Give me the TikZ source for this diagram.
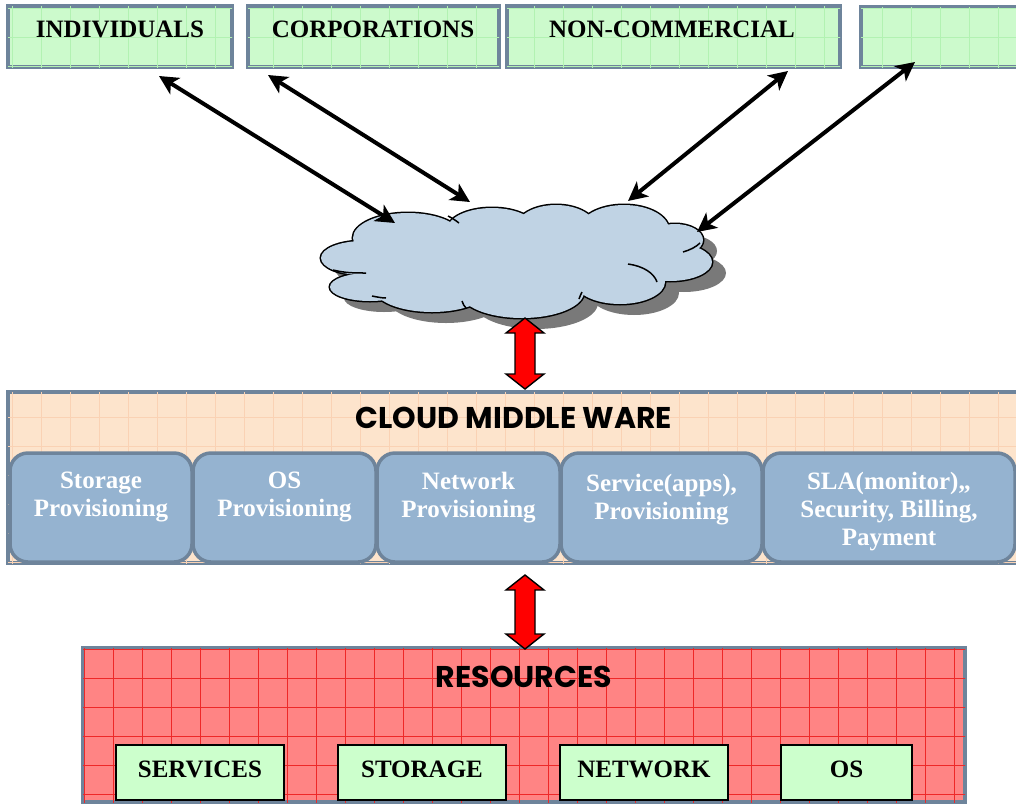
\documentclass[tikz,border=0pt]{standalone}
\usepackage{fontspec}
\setmainfont{Liberation Serif}
\newfontfamily\headfont{Poppins}
\usetikzlibrary{arrows.meta,calc}
\definecolor{bordc}{RGB}{110,132,155}
\definecolor{gfill}{RGB}{204,250,204}
\definecolor{ggrid}{RGB}{178,242,178}
\definecolor{pfill}{RGB}{253,228,204}
\definecolor{pgrid}{RGB}{250,210,180}
\definecolor{rfill}{RGB}{255,132,132}
\definecolor{rgrid}{RGB}{238,40,40}
\definecolor{bfill}{RGB}{149,179,208}
\definecolor{cfill}{RGB}{192,211,228}
\definecolor{lgfill}{RGB}{204,255,204}
\newcommand\gridin[4]{%
  \begin{scope}
    \clip ($(#1.south west)+(2,-2)$) rectangle ($(#1.north east)+(-2,2)$);
    \foreach \i in {0,...,36} {
      \pgfmathsetmacro\gx{#3+29*\i}
      \pgfmathsetmacro\gy{#4+29*\i}
      \draw[#2,line width=0.7pt] (\gx,0) -- (\gx,803);
      \draw[#2,line width=0.7pt] (0,\gy) -- (1016,\gy);
    }
  \end{scope}}
\newcommand\redarrow[4]{%
  \draw[fill=red,line width=1.4pt,line join=miter] (#2,#3) coordinate (#1)
    -- ++(19,15) -- ++(-9,0) -- (#2+10,#4-15) -- ++(9,0) -- (#2,#4)
    -- ++(-19,-15) -- ++(9,0) -- (#2-10,#3+15) -- ++(-9,0) -- cycle;}
% cloud lobes: #1 = style
\newcommand\cloudlobes[1]{%
  \path[#1] (363,258) ellipse [x radius=42,y radius=17];
  \path[#1] (370,287) ellipse [x radius=40,y radius=14];
  \path[#1] (408,238) ellipse [x radius=55,y radius=25];
  \path[#1] (492,230) ellipse [x radius=45,y radius=22];
  \path[#1] (556,228) ellipse [x radius=40,y radius=23];
  \path[#1] (624,230) ellipse [x radius=45,y radius=25];
  \path[#1] (675,240) ellipse [x radius=28,y radius=16];
  \path[#1] (670,262) ellipse [x radius=42,y radius=19];
  \path[#1] (620,282) ellipse [x radius=45,y radius=22];
  \path[#1] (522,292) ellipse [x radius=62,y radius=26];
  \path[#1] (432,288) ellipse [x radius=58,y radius=24];
  \path[#1] (517,260) ellipse [x radius=160,y radius=38];}
\begin{document}
\begin{tikzpicture}[x=1pt,y=-1pt,
  topbox/.style={draw=bordc,line width=4pt,fill=gfill,inner sep=0},
  mwbox/.style={draw=bordc,line width=4pt,fill=pfill,inner sep=0},
  resbox/.style={draw=bordc,line width=4pt,fill=rfill,inner sep=0},
  provbox/.style={draw=bordc,line width=3.5pt,fill=bfill,rounded corners=18pt,inner sep=0,minimum height=109pt},
  itembox/.style={draw=black,line width=2.2pt,fill=lgfill,inner sep=0,minimum height=55pt},
  lbl/.style={font=\bfseries\fontsize{25}{28}\selectfont,inner sep=0},
  wlbl/.style={font=\bfseries\fontsize{25}{28}\selectfont,text=white,align=center,inner sep=0,anchor=north},
  head/.style={font=\headfont\bfseries\fontsize{30}{32}\selectfont,inner sep=0},
  cloudline/.style={draw=black,line width=1.5pt},
  link/.style={line width=4pt,{Stealth[length=19pt,width=19pt,inset=5pt]}-{Stealth[length=19pt,width=19pt,inset=5pt]}}]
\useasboundingbox (0,0) rectangle (1016,803);

% top boxes
\node[topbox,minimum width=224pt,minimum height=61pt] (ind) at (120,36.5) {};
\node[topbox,minimum width=251pt,minimum height=61pt] (cor) at (373.5,36.5) {};
\node[topbox,minimum width=333pt,minimum height=61pt] (ncm) at (673.5,36.5) {};
\node[topbox,minimum width=161pt,minimum height=60pt] (oth) at (941.5,37) {};
\foreach \n in {ind,cor,ncm,oth} {\gridin{\n}{ggrid}{12}{8}}
\node[lbl] (tind) at (120,29) {INDIVIDUALS};
\node[lbl] (tcor) at (373,29) {CORPORATIONS};
\node[lbl] (tncm) at (672,29) {NON-COMMERCIAL};

% cloud: shadow, outline, fill, inner lines
\begin{scope}[shift={(14,11)}]
  \cloudlobes{fill=gray!95!black}
\end{scope}
\cloudlobes{draw=black,line width=3pt}
\cloudlobes{fill=cfill}
\coordinate (cloud) at (517,262);
\draw[cloudline] (333,270) .. controls (345,273) and (355,273) .. (366,273);
\draw[cloudline] (448,216) .. controls (452,218) and (455,220) .. (459,223);
\draw[cloudline] (628,264) .. controls (643,266) and (654,273) .. (657,282);
\draw[cloudline] (683,252) .. controls (690,250) and (696,247) .. (700,243);
\draw[cloudline] (372,296) .. controls (377,297) and (382,298) .. (386,298);
\draw[cloudline] (462,301) .. controls (463,304) and (464,306) .. (466,308);
\draw[cloudline] (579,299) .. controls (580,296) and (581,294) .. (582,292);

% arrows to cloud
\coordinate (e1) at (159,76);  \coordinate (c1) at (395,223);
\coordinate (e2) at (268,75);  \coordinate (c2) at (470,202);
\coordinate (e3) at (788,71);  \coordinate (c3) at (628,201);
\coordinate (e4) at (915,62);  \coordinate (c4) at (697,232);
\draw[link] (e1) -- (c1);
\draw[link] (e2) -- (c2);
\draw[link] (e3) -- (c3);
\draw[link] (e4) -- (c4);

% middle ware
\node[mwbox,minimum width=1012pt,minimum height=171pt] (mw) at (514,477.5) {};
\gridin{mw}{pgrid}{12}{11}
\node[head] (tmw) at (514,418) {CLOUD MIDDLE WARE};
\node[provbox,minimum width=182pt] (p1) at (101,507.5) {};
\node[provbox,minimum width=183pt] (p2) at (284.5,507.5) {};
\node[provbox,minimum width=183pt] (p3) at (468.5,507.5) {};
\node[provbox,minimum width=201pt] (p4) at (661.5,507.5) {};
\node[provbox,minimum width=252pt] (p5) at (889,507.5) {};
\node[wlbl] (tp1) at (101,472) {Storage\\Provisioning};
\node[wlbl] (tp2) at (284.5,472) {OS\\Provisioning};
\node[wlbl] (tp3) at (468.5,472) {Network\\Provisioning};
\node[wlbl] (tp4) at (661.5,474) {Service(apps),\\Provisioning};
\node[wlbl] (tp5) at (889,472) {SLA(monitor),,\\Security, Billing,\\Payment};

% resources
\node[resbox,minimum width=882pt,minimum height=154pt] (res) at (524,725) {};
\gridin{res}{rgrid}{26}{11}
\node[head] (tres) at (524,677) {RESOURCES};
\node[itembox,minimum width=168pt] (r1) at (200,772.5) {};
\node[itembox,minimum width=168pt] (r2) at (422,772.5) {};
\node[itembox,minimum width=168pt] (r3) at (644,772.5) {};
\node[itembox,minimum width=131pt] (r4) at (846.5,772.5) {};
\node[lbl] (tr1) at (200,769) {SERVICES};
\node[lbl] (tr2) at (422,769) {STORAGE};
\node[lbl] (tr3) at (644,769) {NETWORK};
\node[lbl] (tr4) at (846.5,769) {OS};

% red double arrows
\redarrow{ra1}{525}{318}{389}
\redarrow{ra2}{525}{575}{649}
\end{tikzpicture}
\end{document}
